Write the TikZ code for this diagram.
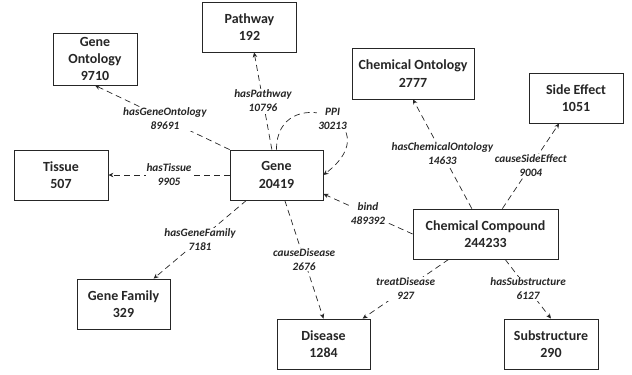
\documentclass[tikz,border=0pt]{standalone}
\usepackage{fontspec}
\setmainfont{Carlito}
\usetikzlibrary{arrows.meta,backgrounds}
\definecolor{inkgray}{HTML}{262626}
\tikzset{
  >={Stealth[length=5bp,width=4.5bp]},
  % entiteter
  ent/.style={draw=inkgray,line width=0.8pt,fill=white,align=center,inner sep=1pt,
              minimum width=94bp,minimum height=50bp,text=inkgray,
              font=\fontsize{14}{17.5}\selectfont\bfseries},
  % relationer
  rel/.style={->,draw=inkgray,line width=0.7pt,dash pattern=on 6bp off 4bp},
  rl/.style={fill=white,inner sep=1pt,align=center,text=inkgray,
             font=\fontsize{11.3}{14}\selectfont\bfseries\itshape},
}
\begin{document}
\begin{tikzpicture}[x=1bp,y=-1bp]
  \useasboundingbox (0,0) rectangle (632,374);
  \node[ent] (path) at (249.5,27) {Pathway\\192};
  \node[ent,minimum width=84bp,minimum height=52bp,font=\fontsize{14}{17}\selectfont\bfseries] (go) at (95,59) {Gene\\Ontology\\9710};
  \node[ent] (tis) at (61,175) {Tissue\\507};
  \node[ent,minimum width=93bp] (gene) at (276.5,175) {Gene\\20419};
  \node[ent,minimum width=122bp,minimum height=51bp] (cont) at (413,73.5) {Chemical Ontology\\2777};
  \node[ent] (side) at (576,98) {Side Effect\\1051};
  \node[ent,minimum width=145bp] (comp) at (485.5,234) {Chemical Compound\\244233};
  \node[ent,minimum width=93bp] (fam) at (123.5,304) {Gene Family\\329};
  \node[ent,minimum width=93bp] (dis) at (323.5,344) {Disease\\1284};
  \node[ent] (sub) at (551,344) {Substructure\\290};
  \begin{scope}[on background layer]
  \draw[rel] (gene) -- node[rl]{hasPathway\\10796} (path);
  \draw[rel] (gene.north west) -- node[rl,pos=0.48]{hasGeneOntology\\89691} (go.south);
  \draw[rel] (gene) -- node[rl]{hasTissue\\9905} (tis);
  \draw[rel] (gene.north) .. controls (276,80) and (395,120) .. node[rl,pos=0.55]{PPI\\30213} (gene.east);
  \draw[rel] (gene) -- node[rl]{hasGeneFamily\\7181} (fam);
  \draw[rel] (gene) -- node[rl]{causeDisease\\2676} (dis.north);
  \draw[rel] (comp.west) -- node[rl]{bind\\489392} (gene.-22);
  \draw[rel] (comp) -- node[rl]{hasChemicalOntology\\14633} (cont.south);
  \draw[rel] (comp) -- node[rl]{causeSideEffect\\9004} (side);
  \draw[rel] (comp) -- node[rl]{treatDisease\\927} (dis.33);
  \draw[rel] (comp) -- node[rl]{hasSubstructure\\6127} (sub.north);
  \end{scope}
\end{tikzpicture}
\end{document}
